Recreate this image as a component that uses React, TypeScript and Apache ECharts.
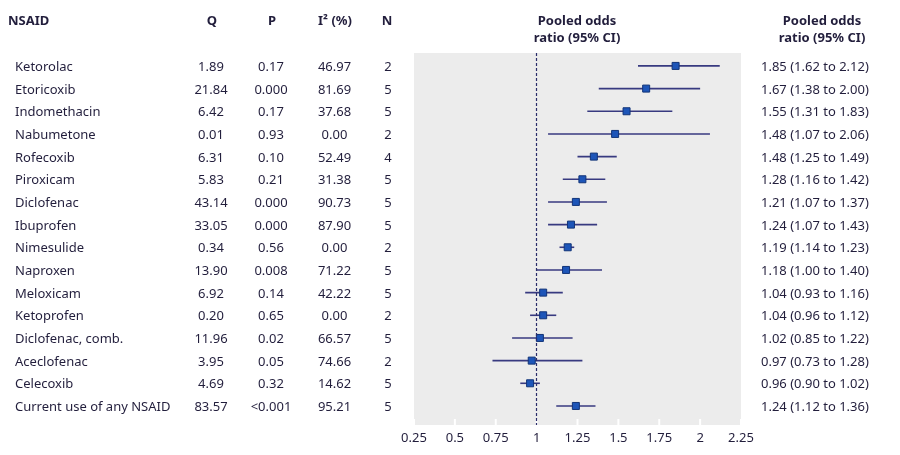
import React, { useEffect, useRef } from "react";
import * as echarts from "echarts";

const nsaids = [
  "Ketorolac", "Etoricoxib", "Indomethacin", "Nabumetone", "Rofecoxib", "Piroxicam",
  "Diclofenac", "Ibuprofen", "Nimesulide", "Naproxen", "Meloxicam", "Ketoprofen",
  "Diclofenac, comb.", "Aceclofenac", "Celecoxib", "Current use of any NSAID",
];
const qValues = ["1.89", "21.84", "6.42", "0.01", "6.31", "5.83", "43.14", "33.05", "0.34", "13.90", "6.92", "0.20", "11.96", "3.95", "4.69", "83.57"];
const pValues = ["0.17", "0.000", "0.17", "0.93", "0.10", "0.21", "0.000", "0.000", "0.56", "0.008", "0.14", "0.65", "0.02", "0.05", "0.32", "<0.001"];
const i2Values = ["46.97", "81.69", "37.68", "0.00", "52.49", "31.38", "90.73", "87.90", "0.00", "71.22", "42.22", "0.00", "66.57", "74.66", "14.62", "95.21"];
const nValues = ["2", "5", "5", "2", "4", "5", "5", "5", "2", "5", "5", "2", "5", "2", "5", "5"];
const orLabels = [
  "1.85 (1.62 to 2.12)", "1.67 (1.38 to 2.00)", "1.55 (1.31 to 1.83)", "1.48 (1.07 to 2.06)",
  "1.48 (1.25 to 1.49)", "1.28 (1.16 to 1.42)", "1.21 (1.07 to 1.37)", "1.24 (1.07 to 1.43)",
  "1.19 (1.14 to 1.23)", "1.18 (1.00 to 1.40)", "1.04 (0.93 to 1.16)", "1.04 (0.96 to 1.12)",
  "1.02 (0.85 to 1.22)", "0.97 (0.73 to 1.28)", "0.96 (0.90 to 1.02)", "1.24 (1.12 to 1.36)",
];
// values as plotted in the picture
const orPoint = [1.85, 1.67, 1.55, 1.48, 1.35, 1.28, 1.24, 1.21, 1.19, 1.18, 1.04, 1.04, 1.02, 0.97, 0.96, 1.24];
const ciLow = [1.62, 1.38, 1.31, 1.07, 1.25, 1.16, 1.07, 1.07, 1.14, 1.0, 0.93, 0.96, 0.85, 0.73, 0.9, 1.12];
const ciHigh = [2.12, 2.0, 1.83, 2.06, 1.49, 1.42, 1.43, 1.37, 1.23, 1.4, 1.16, 1.12, 1.22, 1.28, 1.02, 1.36];
const xTicks = [0.25, 0.5, 0.75, 1, 1.25, 1.5, 1.75, 2, 2.25];

const Y_MIN = -0.57;
const Y_MAX = 15.84;
const FONT = "'Noto Sans', sans-serif";
const TXT = "#221e3c";

export default function App() {
  const ref = useRef<HTMLDivElement>(null);
  useEffect(() => {
    if (!ref.current) return;
    const chart = echarts.init(ref.current, undefined, { renderer: "svg" });

    const mkText = (text: string, x: number, y: number, align: string) => ({
      type: "text",
      style: {
        text, x, y,
        align, verticalAlign: "middle",
        textAlign: align, textVerticalAlign: "middle",
        fontSize: 13, fontFamily: FONT,
        fill: TXT,
      },
    });

    const hdr = (text: string, x: number, y: number, align = "center") => ({
      type: "text", x, y,
      style: { text, align, verticalAlign: "middle", fontSize: 13, fontWeight: "bold", fontFamily: FONT, fill: TXT },
    });

    const headerGraphics = [
      hdr("NSAID", 8, 20, "left"),
      hdr("Q", 212, 20),
      hdr("P", 272, 20),
      hdr("I² (%)", 335, 20),
      hdr("N", 387, 20),
      hdr("Pooled odds", 577, 20),
      hdr("ratio (95% CI)", 577, 37),
      hdr("Pooled odds", 822, 20),
      hdr("ratio (95% CI)", 822, 37),
    ];

    chart.setOption({
      animation: false,
      graphic: headerGraphics,
      grid: {
        left: 414, right: 159, top: 53, bottom: 30,
        show: true, backgroundColor: "#ececec", borderWidth: 0,
      },
      xAxis: {
        type: "value", min: 0.25, max: 2.25, interval: 0.25, position: "bottom",
        axisLine: { show: false, onZero: false },
        splitLine: { show: false },
        axisTick: { show: false },
        axisLabel: { color: TXT, fontSize: 13, fontFamily: FONT, margin: 5, showMinLabel: true, showMaxLabel: true },
      },
      yAxis: {
        type: "value", min: Y_MIN, max: Y_MAX, inverse: true, show: false,
      },
      series: [
        {
          type: "custom",
          name: "ticks",
          silent: true,
          clip: false,
          data: xTicks.map((v) => [v, Y_MAX]),
          encode: { x: 0, y: 1 },
          renderItem: (params: any, api: any) => {
            const p = api.coord([api.value(0), api.value(1)]);
            return {
              type: "rect",
              shape: { x: p[0] - 1, y: p[1] - 6, width: 2, height: 6 },
              style: { fill: "#ffffff" },
            };
          },
          z: 2,
        },
        {
          type: "custom",
          name: "forest",
          data: orPoint.map((v, i) => [v, i, ciLow[i], ciHigh[i]]),
          encode: { x: 0, y: 1 },
          renderItem: (params: any, api: any) => {
            const y = api.value(1);
            const lo = api.coord([api.value(2), y]);
            const hi = api.coord([api.value(3), y]);
            const c = api.coord([api.value(0), y]);
            return {
              type: "group",
              children: [
                { type: "line", shape: { x1: lo[0], y1: lo[1], x2: hi[0], y2: hi[1] }, style: { stroke: "#383a80", lineWidth: 1.6 } },
                { type: "rect", shape: { x: c[0] - 3.5, y: c[1] - 3.5, width: 7, height: 7 }, style: { fill: "#1d55b8", stroke: "#123478", lineWidth: 1 } },
              ],
            };
          },
          markLine: {
            silent: true,
            symbol: ["none", "none"],
            label: { show: false },
            lineStyle: { type: [3, 2], color: "#2a2c6a", width: 1.2 },
            data: [{ xAxis: 1 }],
          },
          z: 3,
        },
        {
          type: "custom",
          name: "table",
          clip: false,
          data: nsaids.map((_, i) => [0.25, i]),
          encode: { x: 0, y: 1 },
          renderItem: (params: any, api: any) => {
            const i = params.dataIndex;
            const y = api.coord([0.25, api.value(1)])[1];
            return {
              type: "group",
              children: [
                mkText(nsaids[i], 15, y, "left"),
                mkText(qValues[i], 211, y, "center"),
                mkText(pValues[i], 271, y, "center"),
                mkText(i2Values[i], 334.5, y, "center"),
                mkText(nValues[i], 388, y, "center"),
                mkText(orLabels[i], 761, y, "left"),
              ],
            };
          },
          z: 4,
        },
      ],
    });
    return () => chart.dispose();
  }, []);
  return <div ref={ref} style={{ position: "fixed", left: 0, top: 0, width: 900, height: 455 }} />;
}
